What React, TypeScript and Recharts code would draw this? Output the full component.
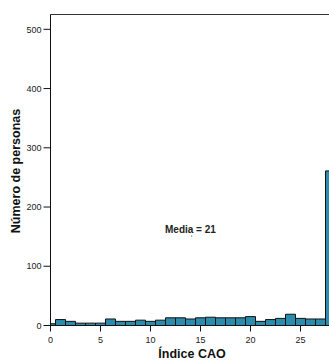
import React from "react";
import {
  BarChart,
  Bar,
  XAxis,
  YAxis,
  ReferenceLine,
  Customized,
} from "recharts";

// Índice CAO (0..28) and number of people per value
const indices = [
  0, 1, 2, 3, 4, 5, 6, 7, 8, 9, 10, 11, 12, 13, 14, 15, 16, 17, 18, 19, 20, 21,
  22, 23, 24, 25, 26, 27, 28,
];
const personas = [
  3, 10, 7, 4, 4, 4, 11, 7, 7, 9, 7, 9, 13, 13, 11, 13, 14, 13, 13, 13, 15, 7,
  10, 12, 19, 12, 11, 11, 261,
];
const xTicks = [0, 5, 10, 15, 20, 25];
const yTicks = [0, 100, 200, 300, 400, 500];

const data = indices.map((v, i) => ({ indice: v, personas: personas[i] }));

const font = "'Liberation Sans', Arial, sans-serif";

const Titles = () => (
  <g fontFamily={font} fill="#111">
    <text
      transform="translate(20,171) rotate(-90)"
      textAnchor="middle"
      fontSize={12.5}
      fontWeight="bold"
    >
      Número de personas
    </text>
    <text x={192} y={358} textAnchor="middle" fontSize={12.5} fontWeight="bold">
      Índice CAO
    </text>
    <text x={165} y={233} fontSize={10} fontWeight="bold" fill="#222">
      Media = 21
    </text>
    <circle cx={191.7} cy={236} r={0.6} fill="#333" />
  </g>
);

export default function App() {
  return (
    <div
      style={{
        position: "fixed",
        left: 0,
        top: 0,
        width: 329,
        height: 360,
        overflow: "hidden",
        background: "#fff",
      }}
    >
      <BarChart
        width={336}
        height={360}
        data={data}
        margin={{ top: 14.5, right: 0.5, left: 0.5, bottom: 0 }}
        barCategoryGap={0}
        barGap={0}
        style={{ fontFamily: font }}
      >
        <XAxis
          dataKey="indice"
          type="number"
          domain={[0, 28.5]}
          ticks={xTicks}
          allowDataOverflow
          height={34.5}
          tickSize={6}
          tickMargin={5}
          tick={{ fontSize: 9, fill: "#222" }}
          stroke="#111"
        />
        <YAxis
          type="number"
          domain={[0, 525]}
          ticks={yTicks}
          width={50}
          tickSize={7}
          tickMargin={2}
          tick={{ fontSize: 9, fill: "#222" }}
          stroke="#111"
        />
        <ReferenceLine y={525} stroke="#333" />
        <Bar
          dataKey="personas"
          fill="#2b8cae"
          stroke="#111"
          strokeWidth={1}
          isAnimationActive={false}
        />
        <Customized component={Titles} />
      </BarChart>
    </div>
  );
}
